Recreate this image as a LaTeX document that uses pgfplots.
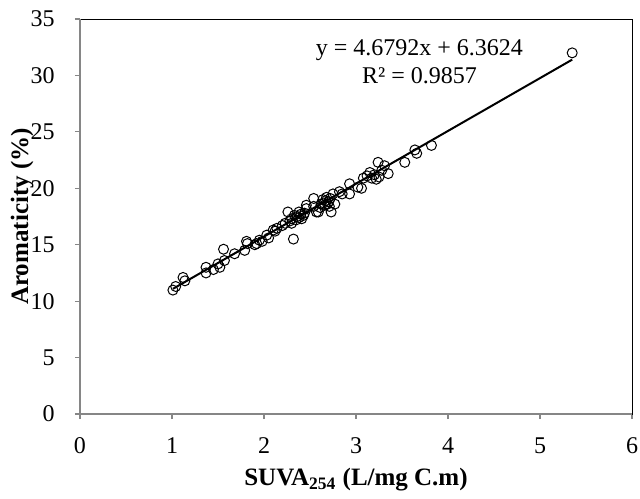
\documentclass[border=0pt]{standalone}
\usepackage{fontspec}
\setmainfont{Liberation Serif}
\usepackage{pgfplots}
\pgfplotsset{compat=1.18}
\definecolor{axgray}{RGB}{134,134,134}
\pgfplotstableread{
x y
1.01 10.98
1.04 11.30
1.12 12.10
1.14 11.80
1.37 13.00
1.37 12.50
1.45 12.80
1.50 13.30
1.52 13.00
1.56 14.60
1.57 13.60
1.68 14.20
1.79 14.50
1.82 15.10
1.81 15.30
1.92 15.10
1.95 15.40
1.90 15.00
1.98 15.30
2.03 15.85
2.05 15.60
2.10 16.30
2.12 16.20
2.14 16.45
2.20 16.70
2.23 16.90
2.26 17.90
2.28 17.10
2.30 16.90
2.32 15.50
2.30 17.30
2.33 17.60
2.35 17.20
2.36 17.50
2.38 17.40
2.40 17.70
2.41 17.30
2.43 17.60
2.44 17.80
2.46 18.20
2.46 18.50
2.38 17.90
2.54 18.40
2.54 19.10
2.57 17.90
2.59 17.90
2.61 18.30
2.62 18.60
2.64 19.00
2.65 18.70
2.66 18.50
2.67 18.90
2.68 19.20
2.69 18.60
2.70 18.80
2.71 18.40
2.72 19.10
2.73 17.90
2.75 19.50
2.77 18.60
2.82 19.70
2.85 19.50
2.93 19.50
2.93 20.40
3.02 20.10
3.06 20.00
3.08 20.90
3.12 21.10
3.15 21.40
3.17 20.90
3.20 21.20
3.22 20.80
3.24 22.30
3.25 21.00
3.28 21.60
3.31 22.00
3.35 21.30
3.53 22.30
3.64 23.40
3.66 23.10
3.82 23.80
5.35 32.00
}\suva
\begin{document}
\begin{tikzpicture}
\begin{axis}[
  scale only axis, width=276pt, height=197.5pt,
  xmin=0, xmax=6, ymin=0, ymax=35,
  xtick={0,1,2,3,4,5,6}, ytick={0,5,10,15,20,25,30,35},
  tick align=outside, xtick pos=bottom, ytick pos=left,
  major tick length=2.5pt,
  tick style={axgray, line width=0.6pt},
  axis line style={black, line width=0.5pt},
  /pgf/number format/assume math mode=true,
  ticklabel style={font=\fontsize{12}{14}\selectfont},
  xticklabel style={anchor=base, inner sep=0pt, yshift=-17pt},
  yticklabel style={anchor=east, inner sep=0pt, xshift=-10pt},
  every axis x label/.style={at={(axis description cs:0.5,-0.182)}, anchor=base, font=\fontsize{12.5}{14}\selectfont\bfseries},
  every axis y label/.style={at={(axis description cs:-0.094,0.5)}, rotate=90, anchor=base, font=\fontsize{12.5}{14}\selectfont\bfseries},
  xlabel={SUVA\textsubscript{254} (L/mg C.m)},
  ylabel={Aromaticity (\%)},
  clip=false,
]
\addplot[only marks, mark=o, mark size=2.5pt, mark options={black, line width=0.5pt}] table[x=x,y=y] {\suva};
\addplot[black, line width=1pt] coordinates {(1.01,11.09) (5.35,31.40)};
\draw[axgray, line width=0.75pt] (rel axis cs:0,1) -- (rel axis cs:0,0) -- (rel axis cs:1,0);
\node[anchor=base, font=\fontsize{12}{14}\selectfont] at (axis cs:3.69,31.8) {y = 4.6792x + 6.3624};
\node[anchor=base, font=\fontsize{12}{14}\selectfont] at (axis cs:3.69,29.3) {R² = 0.9857};
\coordinate (bl) at (rel axis cs:0,0);
\coordinate (tr) at (rel axis cs:1,1);
\end{axis}
\path ([xshift=-40pt,yshift=-38pt]bl) rectangle ([xshift=4pt,yshift=9.5pt]tr);
\end{tikzpicture}
\end{document}
